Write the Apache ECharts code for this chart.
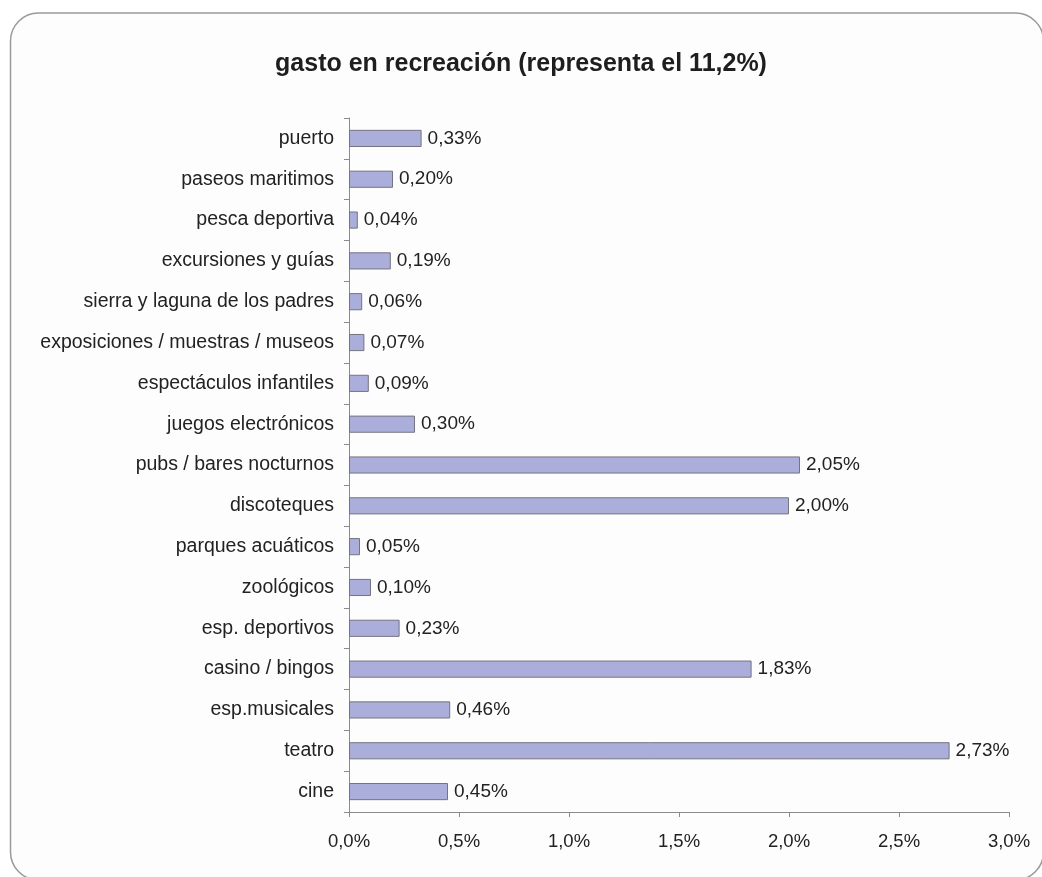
<!DOCTYPE html>
<html>
<head>
<meta charset="utf-8">
<script src="https://cdn.jsdelivr.net/npm/echarts@6/dist/echarts.min.js"></script>
<style>
  html, body { margin: 0; padding: 0; background: #ffffff; }
  #chart { width: 1042px; height: 877px; }
</style>
</head>
<body>
<div id="chart"></div>
<script>
// Recreation spending breakdown, bottom-to-top order of the category axis
const categories = [
  'cine', 'teatro', 'esp.musicales', 'casino / bingos', 'esp. deportivos',
  'zoológicos', 'parques acuáticos', 'discoteques', 'pubs / bares nocturnos',
  'juegos electrónicos', 'espectáculos infantiles', 'exposiciones / muestras / museos',
  'sierra y laguna de los padres', 'excursiones y guías', 'pesca deportiva',
  'paseos maritimos', 'puerto'
];
const values = [
  0.45, 2.73, 0.46, 1.83, 0.23,
  0.10, 0.05, 2.00, 2.05,
  0.30, 0.09, 0.07,
  0.06, 0.19, 0.04,
  0.20, 0.33
];
const titleText = 'gasto en recreación (representa el 11,2%)';
const xTicks = { min: 0, max: 3, interval: 0.5 };

const fmt = (v, d) => v.toFixed(d).replace('.', ',') + '%';
const font = 'Liberation Sans, Arial, sans-serif';

const chart = echarts.init(document.getElementById('chart'), null, { renderer: 'canvas' });
chart.setOption({
  backgroundColor: '#ffffff',
  animation: false,
  graphic: [{
    type: 'rect',
    z: -10,
    silent: true,
    shape: { x: 10.5, y: 13, width: 1033, height: 867, r: 28 },
    style: { fill: '#fdfdfd', stroke: '#9a9a9a', lineWidth: 1.5 }
  }],
  title: {
    text: titleText,
    left: 'center',
    top: 47,
    textStyle: { fontFamily: font, fontSize: 25, fontWeight: 'bold', color: '#1e1e1e' }
  },
  grid: { left: 349, right: 33, top: 118, bottom: 65, containLabel: false },
  xAxis: {
    type: 'value',
    min: xTicks.min,
    max: xTicks.max,
    interval: xTicks.interval,
    axisLine: { show: true, lineStyle: { color: '#8a8a8a', width: 1 } },
    axisTick: { show: true, length: 5, lineStyle: { color: '#8a8a8a' } },
    splitLine: { show: false },
    axisLabel: {
      margin: 20,
      fontFamily: font, fontSize: 18.5, color: '#222',
      formatter: v => fmt(v, 1)
    }
  },
  yAxis: {
    type: 'category',
    data: categories,
    axisLine: { show: true, lineStyle: { color: '#8a8a8a', width: 1 } },
    axisTick: { show: true, length: 5, alignWithLabel: false, lineStyle: { color: '#8a8a8a' } },
    axisLabel: { margin: 15, fontFamily: font, fontSize: 19.5, color: '#222' },
    splitLine: { show: false }
  },
  series: [{
    type: 'bar',
    data: values,
    barCategoryGap: '58%',
    itemStyle: { color: '#abaedb', borderColor: '#74747f', borderWidth: 1 },
    label: {
      show: true,
      position: 'right',
      distance: 6,
      fontFamily: font, fontSize: 19, color: '#222',
      formatter: p => fmt(p.value, 2)
    }
  }]
});
</script>
</body>
</html>
